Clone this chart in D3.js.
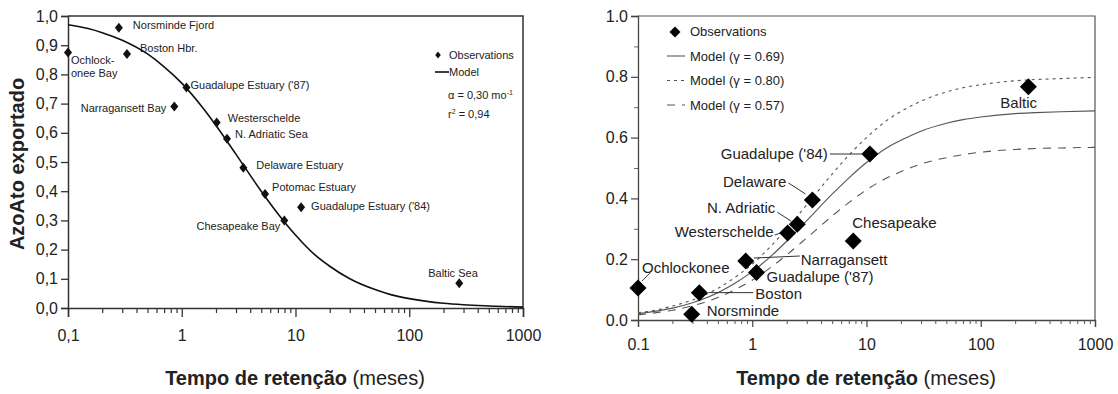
<!DOCTYPE html>
<html>
<head>
<meta charset="utf-8">
<script src="https://cdn.jsdelivr.net/npm/d3@7"></script>
<style>
body { margin: 0; background: #fff; }
text { font-family: "Liberation Sans", Arial, sans-serif; fill: #222; }
</style>
</head>
<body>
<svg id="chart" width="1118" height="394"></svg>
<script>
// ---- left panel: exported N vs residence time ----
var leftNames = ["Ochlock-|onee Bay", "Norsminde Fjord", "Boston Hbr.", "Narragansett Bay",
    "Guadalupe Estuary ('87)", "Westerschelde", "N. Adriatic Sea", "Delaware Estuary",
    "Potomac Estuary", "Chesapeake Bay", "Guadalupe Estuary ('84)", "Baltic Sea"];
var leftTime = [0.1, 0.28, 0.33, 0.86, 1.1, 2.03, 2.5, 3.48, 5.4, 7.97, 11.2, 275];
var leftExported = [0.875, 0.96, 0.87, 0.69, 0.755, 0.635, 0.58, 0.48, 0.39, 0.30, 0.345, 0.085];

// model curve
var modelTime = [0.1, 0.15, 0.2, 0.3, 0.5, 0.7, 1, 1.5, 2, 3, 5, 7, 10, 15, 20, 30, 50, 70, 100, 200, 300, 500, 1000];
var leftModel = [0.97, 0.957, 0.943, 0.917, 0.87, 0.826, 0.77, 0.69, 0.625, 0.526, 0.40, 0.323, 0.25, 0.18, 0.143, 0.10, 0.063, 0.045, 0.032, 0.016, 0.011, 0.007, 0.003];

var leftYTicks = [0, 0.1, 0.2, 0.3, 0.4, 0.5, 0.6, 0.7, 0.8, 0.9, 1.0];
var leftXLabels = ["0,1", "1", "10", "100", "1000"];

// ---- right panel: retained fraction ----
var rightNames = ["Ochlockonee", "Norsminde", "Boston", "Narragansett", "Guadalupe ('87)",
    "Westerschelde", "N. Adriatic", "Delaware", "Guadalupe ('84)", "Chesapeake", "Baltic"];
var rightTime = [0.1, 0.295, 0.344, 0.877, 1.09, 2.04, 2.48, 3.36, 10.7, 7.66, 261];
var rightValue = [0.105, 0.019, 0.09, 0.194, 0.156, 0.286, 0.315, 0.395, 0.546, 0.26, 0.767];

var model069 = [0.021, 0.030, 0.039, 0.057, 0.090, 0.120, 0.159, 0.214, 0.259, 0.327, 0.414, 0.467, 0.518, 0.566, 0.591, 0.621, 0.647, 0.659, 0.668, 0.679, 0.682, 0.685, 0.688];
var model080 = [0.024, 0.034, 0.046, 0.066, 0.104, 0.139, 0.184, 0.248, 0.300, 0.379, 0.480, 0.542, 0.600, 0.656, 0.686, 0.720, 0.750, 0.764, 0.774, 0.787, 0.791, 0.794, 0.798];
var model057 = [0.017, 0.025, 0.032, 0.047, 0.074, 0.099, 0.131, 0.177, 0.214, 0.270, 0.342, 0.386, 0.428, 0.467, 0.488, 0.513, 0.534, 0.544, 0.552, 0.561, 0.564, 0.566, 0.568];
var modelLabels = ["Model (\u03b3 = 0.69)", "Model (\u03b3 = 0.80)", "Model (\u03b3 = 0.57)"];

var rightYMajor = [0, 0.2, 0.4, 0.6, 0.8, 1.0];
var rightYMinor = [0.1, 0.3, 0.5, 0.7, 0.9];
var rightXLabels = ["0.1", "1", "10", "100", "1000"];

var decades = [0.1, 1, 10, 100, 1000];
var minorX = [];
[0.1, 1, 10, 100].forEach(function (d) {
    for (var k = 2; k <= 9; k++) minorX.push(d * k);
});

var svg = d3.select("#chart");

// ================= LEFT =================
var x1 = d3.scaleLog().domain([0.1, 1000]).range([68, 523]);
var y1 = d3.scaleLinear().domain([0, 1]).range([308, 16]);

var g1 = svg.append("g");

// frame (top + right)
g1.append("path")
    .attr("d", "M" + x1(0.1) + "," + y1(1) + "H" + x1(1000) + "V" + y1(0))
    .attr("fill", "none").attr("stroke", "#333").attr("stroke-width", 1.5);

var xAxis1 = d3.axisBottom(x1).tickValues(decades).tickSize(9)
    .tickFormat(function (d, i) { return leftXLabels[i]; });
g1.append("g").attr("transform", "translate(0," + y1(0) + ")").call(xAxis1)
    .call(function (a) {
        a.select(".domain").attr("stroke", "#333").attr("stroke-width", 1.5);
        a.selectAll("line").attr("stroke", "#333").attr("stroke-width", 1.3);
        a.selectAll("text").attr("font-size", "16px").attr("fill", "#222").attr("dy", "1.3em");
    });
g1.append("g").attr("transform", "translate(0," + y1(0) + ")")
    .call(d3.axisBottom(x1).tickValues(minorX).tickSize(5).tickFormat(""))
    .call(function (a) {
        a.select(".domain").remove();
        a.selectAll("line").attr("stroke", "#333").attr("stroke-width", 1.2);
    });

var yAxis1 = d3.axisLeft(y1).tickValues(leftYTicks).tickSize(7)
    .tickFormat(function (d) { return d3.format(".1f")(d).replace(".", ","); });
g1.append("g").attr("transform", "translate(" + x1(0.1) + ",0)").call(yAxis1)
    .call(function (a) {
        a.select(".domain").attr("stroke", "#333").attr("stroke-width", 1.5);
        a.selectAll("line").attr("stroke", "#333").attr("stroke-width", 1.3);
        a.selectAll("text").attr("font-size", "16px").attr("fill", "#222").attr("x", -10);
    });

// model curve
var line1 = d3.line()
    .x(function (d, i) { return x1(modelTime[i]); })
    .y(function (d) { return y1(d); })
    .curve(d3.curveMonotoneX);
g1.append("path").datum(leftModel)
    .attr("d", line1).attr("fill", "none").attr("stroke", "#111").attr("stroke-width", 1.6);

// observations
var smallDiamond = "M0,-5L4,0L0,5L-4,0Z";
g1.selectAll(".obs").data(leftTime).enter().append("path")
    .attr("class", "obs")
    .attr("d", smallDiamond)
    .attr("transform", function (d, i) { return "translate(" + x1(d) + "," + y1(leftExported[i]) + ")"; })
    .attr("fill", "#111");

// label offsets from each point (layout only)
var leftLabelPos = [
    [3, 11, "start"], [14, 1, "start"], [13, -2, "start"], [-8, 5, "start"],
    [4, 1, "start"], [11, -1, "start"], [8, -1, "start"], [13, 1, "start"],
    [7, -3, "start"], [-4, 10, "end"], [10, 3, "start"], [-31, -6, "start"]
];
leftNames.forEach(function (name, i) {
    var p = leftLabelPos[i];
    var t = g1.append("text")
        .attr("x", x1(leftTime[i]) + p[0])
        .attr("y", y1(leftExported[i]) + p[1])
        .attr("font-size", "11px")
        .attr("fill", "#333")
        .attr("text-anchor", p[0] < 0 && i === 3 ? "end" : p[2]);
    var parts = name.split("|");
    parts.forEach(function (s, k) {
        t.append("tspan").attr("x", x1(leftTime[i]) + p[0]).attr("dy", k === 0 ? 0 : 13).text(s);
    });
});

// legend
g1.append("path").attr("d", smallDiamond).attr("transform", "translate(438,55) scale(0.7)").attr("fill", "#111");
g1.append("text").attr("x", 449).attr("y", 59).attr("font-size", "11px").attr("fill", "#333").text("Observations");
g1.append("line").attr("x1", 435).attr("x2", 449).attr("y1", 72).attr("y2", 72).attr("stroke", "#111").attr("stroke-width", 1.6);
g1.append("text").attr("x", 449).attr("y", 76).attr("font-size", "11px").attr("fill", "#333").text("Model");
var alphaText = g1.append("text").attr("x", 448).attr("y", 99).attr("font-size", "11px").attr("fill", "#333");
alphaText.append("tspan").text("\u03b1 = 0,30 mo");
alphaText.append("tspan").attr("dy", -4).attr("font-size", "7px").text("-1");
var r2 = g1.append("text").attr("x", 448).attr("y", 118).attr("font-size", "11px").attr("fill", "#333");
r2.append("tspan").text("r");
r2.append("tspan").attr("dy", -4).attr("font-size", "7px").text("2");
r2.append("tspan").attr("dy", 4).text(" = 0,94");

// axis titles
g1.append("text")
    .attr("transform", "translate(24," + (y1(0.5) + 2) + ") rotate(-90)")
    .attr("text-anchor", "middle").attr("font-size", "20px").attr("font-weight", "bold").attr("fill", "#111")
    .text("AzoAto exportado");
var t1 = g1.append("text").attr("x", 295).attr("y", 385).attr("text-anchor", "middle").attr("font-size", "20px").attr("fill", "#111");
t1.append("tspan").attr("font-weight", "bold").text("Tempo de retenção");
t1.append("tspan").text(" (meses)");

// ================= RIGHT =================
var x2 = d3.scaleLog().domain([0.1, 1000]).range([638, 1095]);
var y2 = d3.scaleLinear().domain([0, 1]).range([320, 16]);
var g2 = svg.append("g");

g2.append("path")
    .attr("d", "M" + x2(0.1) + "," + y2(1) + "H" + x2(1000) + "V" + y2(0))
    .attr("fill", "none").attr("stroke", "#555").attr("stroke-width", 1.2);

var xAxis2 = d3.axisBottom(x2).tickValues(decades).tickSize(7)
    .tickFormat(function (d, i) { return rightXLabels[i]; });
g2.append("g").attr("transform", "translate(0," + y2(0) + ")").call(xAxis2)
    .call(function (a) {
        a.select(".domain").attr("stroke", "#444").attr("stroke-width", 1.3);
        a.selectAll("line").attr("stroke", "#444").attr("stroke-width", 1.2);
        a.selectAll("text").attr("font-size", "16px").attr("fill", "#222").attr("dy", "1.25em");
    });
g2.append("g").attr("transform", "translate(0," + y2(0) + ")")
    .call(d3.axisBottom(x2).tickValues(minorX).tickSize(4).tickFormat(""))
    .call(function (a) {
        a.select(".domain").remove();
        a.selectAll("line").attr("stroke", "#555").attr("stroke-width", 1);
    });

var yAxis2 = d3.axisLeft(y2).tickValues(rightYMajor).tickSize(7).tickFormat(d3.format(".1f"));
g2.append("g").attr("transform", "translate(" + x2(0.1) + ",0)").call(yAxis2)
    .call(function (a) {
        a.select(".domain").attr("stroke", "#444").attr("stroke-width", 1.3);
        a.selectAll("line").attr("stroke", "#444").attr("stroke-width", 1.2);
        a.selectAll("text").attr("font-size", "16px").attr("fill", "#222").attr("x", -10);
    });
g2.append("g").attr("transform", "translate(" + x2(0.1) + ",0)")
    .call(d3.axisLeft(y2).tickValues(rightYMinor).tickSize(4).tickFormat(""))
    .call(function (a) {
        a.select(".domain").remove();
        a.selectAll("line").attr("stroke", "#666").attr("stroke-width", 1);
    });

var line2 = d3.line()
    .x(function (d, i) { return x2(modelTime[i]); })
    .y(function (d) { return y2(d); })
    .curve(d3.curveMonotoneX);
var modelSeries = [model069, model080, model057];
var modelDash = [null, "3,4", "8,7"];
modelSeries.forEach(function (s, i) {
    g2.append("path").datum(s)
        .attr("d", line2).attr("fill", "none")
        .attr("stroke", "#555").attr("stroke-width", 1.1)
        .attr("stroke-dasharray", modelDash[i]);
});

// leader lines: [x1 off, y1 off, x2 off, y2 off] relative to point
var leaders = [
    [4, -7, 12, -15], null, [9, 0, 54, 0], [8, -3, 54, -5], null,
    [-13, 2, -7, 0], [-20, -12, -6, -3], [-24, -17, -7, -6], [-40, 0, -8, 0], null, null
];
leaders.forEach(function (l, i) {
    if (!l) return;
    var px = x2(rightTime[i]), py = y2(rightValue[i]);
    g2.append("line")
        .attr("x1", px + l[0]).attr("y1", py + l[1])
        .attr("x2", px + l[2]).attr("y2", py + l[3])
        .attr("stroke", "#333").attr("stroke-width", 1);
});

var bigDiamond = "M0,-8.5L8.5,0L0,8.5L-8.5,0Z";
g2.selectAll(".obs").data(rightTime).enter().append("path")
    .attr("class", "obs")
    .attr("d", bigDiamond)
    .attr("transform", function (d, i) { return "translate(" + x2(d) + "," + y2(rightValue[i]) + ")"; })
    .attr("fill", "#000");

var rightLabelPos = [
    [4, -15, "start"], [15, 2, "start"], [56, 6, "start"], [55, 4, "start"],
    [10, 9, "start"], [-14, 4, "end"], [-22, -11, "end"], [-26, -13, "end"],
    [-42, 5, "end"], [-1, -13, "start"], [-28, 21, "start"]
];
rightNames.forEach(function (name, i) {
    var p = rightLabelPos[i];
    g2.append("text")
        .attr("x", x2(rightTime[i]) + p[0])
        .attr("y", y2(rightValue[i]) + p[1])
        .attr("text-anchor", p[2])
        .attr("font-size", "15px")
        .attr("fill", "#222")
        .text(name);
});

// legend
g2.append("path").attr("d", bigDiamond).attr("transform", "translate(675,32) scale(0.65)").attr("fill", "#000");
g2.append("text").attr("x", 690).attr("y", 36).attr("font-size", "13px").attr("fill", "#222").text("Observations");
modelLabels.forEach(function (lab, i) {
    var ly = 56 + i * 24.5;
    g2.append("line").attr("x1", 667).attr("x2", 685).attr("y1", ly).attr("y2", ly)
        .attr("stroke", "#555").attr("stroke-width", 1.1).attr("stroke-dasharray", modelDash[i]);
    g2.append("text").attr("x", 690).attr("y", ly + 4.5).attr("font-size", "13px").attr("fill", "#222").text(lab);
});

var t2 = g2.append("text").attr("x", 866).attr("y", 385).attr("text-anchor", "middle").attr("font-size", "20px").attr("fill", "#111");
t2.append("tspan").attr("font-weight", "bold").text("Tempo de retenção");
t2.append("tspan").text(" (meses)");
</script>
</body>
</html>
